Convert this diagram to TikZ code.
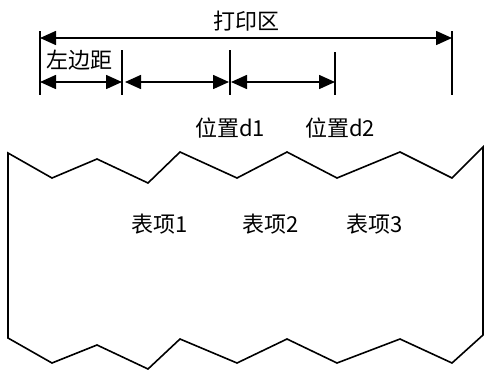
\documentclass[tikz,border=0pt]{standalone}
\usepackage{fontspec}
\setmainfont{Noto Sans CJK SC}
\usetikzlibrary{arrows.meta}

\begin{document}
\begin{tikzpicture}[x = 1pt, y = -1pt, line width = 1.6pt,
    dim/.style = {{Triangle[length = 16pt, width = 14pt]}-{Triangle[length = 16pt, width = 14pt]}},
    lbl/.style = {font = \fontsize{22}{26}\selectfont, inner sep = 0pt}]
            \useasboundingbox (0,0) rectangle (484,373);

            \coordinate (t0) at (40,31);
            \coordinate (t1) at (122,50);
            \coordinate (t2) at (230,50);
            \coordinate (t3) at (335,52);
            \coordinate (t4) at (452,31);
            \draw (t0) -- (40,95);
            \draw (t1) -- (122,95);
            \draw (t2) -- (230,95);
            \draw (t3) -- (335,95);
            \draw (t4) -- (452,95);

            \coordinate (a0) at (40,38);
            \coordinate (a1) at (452,38);
            \draw [dim] (a0) -- node[lbl, above = 6pt]{打印区} (a1);

            \coordinate (b0) at (40,82);
            \coordinate (b1) at (122,82);
            \coordinate (b2) at (125,82);
            \coordinate (b3) at (229,82);
            \coordinate (b4) at (231,82);
            \coordinate (b5) at (335,82);
            \draw [dim] (b0) -- (b1);
            \draw [dim] (b2) -- (b3);
            \draw [dim] (b4) -- (b5);

            \node[lbl] (margin) at (79,60) {左边距};
            \node[lbl] (pos1) at (230,128) {位置d1};
            \node[lbl] (pos2) at (340,128) {位置d2};

            \draw (8,153) -- (52,178) -- (97,159) -- (148,183) -- (180,152)
            -- (237,178) -- (287,152) -- (337,178) -- (400,152) -- (452,178)
            -- (483,147) -- (483,335) -- (452,363) -- (400,339) -- (337,363)
            -- (287,339) -- (237,363) -- (180,339) -- (148,369) -- (97,345)
            -- (52,363) -- (8,338) -- cycle;

            \node[lbl] (item1) at (160,224) {表项1};
            \node[lbl] (item2) at (271,224) {表项2};
            \node[lbl] (item3) at (375,224) {表项3};
    \end{tikzpicture}
\end{document}
